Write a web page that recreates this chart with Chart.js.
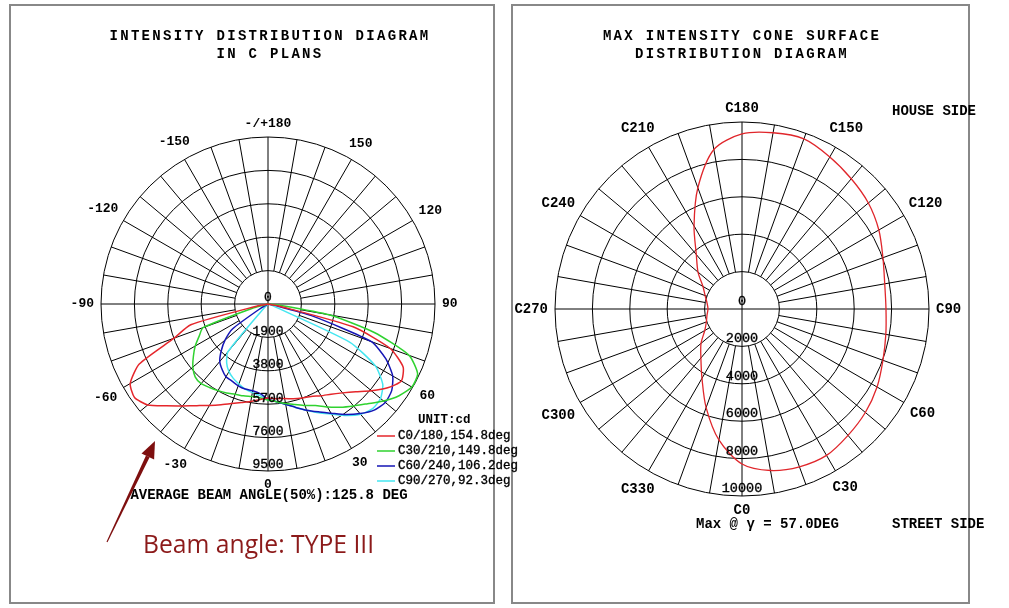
<!DOCTYPE html>
<html>
<head>
<meta charset="utf-8">
<script src="https://cdn.jsdelivr.net/npm/chart.js@4.4.1/dist/chart.umd.min.js"></script>
<style>
  html, body { margin: 0; padding: 0; background: #fff; }
  #page { position: relative; width: 1009px; height: 608px; overflow: hidden; }
  .panel { position: absolute; border: 2px solid #888; box-sizing: border-box; }
  canvas { position: absolute; top: 0; }
  .t { position: absolute; white-space: nowrap; font-family: "Liberation Mono", "DejaVu Sans Mono", monospace;
       font-weight: bold; color: #000; line-height: 1; transform: translate(-50%, -50%); }
  .l { transform: translate(0, -50%); }
  .title { font-size: 14px; letter-spacing: 2.3px; }
  .small { font-size: 14px; }
  .leg { font-size: 12.5px; font-weight: normal; -webkit-text-stroke: 0.35px #000; }
  .note { position: absolute; white-space: nowrap; font-family: "Open Sans", "Noto Sans", sans-serif;
          font-size: 24.7px; line-height: 1; color: #8c1a1a; }
</style>
</head>
<body>
<div id="page">
  <div class="panel" style="left:9px;top:4px;width:486px;height:600px"></div>
  <div class="panel" style="left:511px;top:4px;width:459px;height:600px"></div>

  <canvas id="cplanes" width="505" height="608" style="left:0"></canvas>
  <canvas id="cone" width="504" height="608" style="left:505px"></canvas>

  <div class="t title" style="left:270px;top:36px">INTENSITY DISTRIBUTION DIAGRAM</div>
  <div class="t title" style="left:270px;top:54px">IN C PLANS</div>
  <div class="t title" style="left:742px;top:36px">MAX INTENSITY CONE SURFACE</div>
  <div class="t title" style="left:742px;top:54px">DISTRIBUTION DIAGRAM</div>

  <div class="t l" style="left:418px;top:420px;font-size:12.5px">UNIT:cd</div>
  <div class="t l leg" style="left:398px;top:436px">C0/180,154.8deg</div>
  <div class="t l leg" style="left:398px;top:451px">C30/210,149.8deg</div>
  <div class="t l leg" style="left:398px;top:466px">C60/240,106.2deg</div>
  <div class="t l leg" style="left:398px;top:481px">C90/270,92.3deg</div>

  <div class="t small" style="left:269px;top:495px">AVERAGE BEAM ANGLE(50%):125.8 DEG</div>

  <div class="t l small" style="left:892px;top:111px">HOUSE SIDE</div>
  <div class="t l small" style="left:892px;top:524px">STREET SIDE</div>
  <div class="t l small" style="left:696px;top:524px">Max @ γ = 57.0DEG</div>

  <div class="note" style="left:143px;top:532px">Beam angle: TYPE III</div>

  <svg width="1009" height="608" style="position:absolute;left:0;top:0">
    <line x1="377" y1="436" x2="395" y2="436" stroke="#e5262b" stroke-width="1.5"/>
    <line x1="377" y1="451" x2="395" y2="451" stroke="#2fd22f" stroke-width="1.5"/>
    <line x1="377" y1="466" x2="395" y2="466" stroke="#1515b5" stroke-width="1.5"/>
    <line x1="377" y1="481" x2="395" y2="481" stroke="#45e6f0" stroke-width="1.5"/>
    <polygon points="146,455.6 149.6,457.2 107.5,542.2 106.5,541.8" fill="#7e0f0f"/>
    <polygon points="155,441 154.1,459.4 141.5,453.4" fill="#7e0f0f"/>
  </svg>
</div>

<script>
// ---- left diagram: intensity (cd) per gamma angle, one pair of C planes per series
const gammaAngles = [-90, -85, -80, -75, -70, -65, -60, -55, -50, -45, -40, -35, -30, -25, -20, -15, -10, -5,
  0, 5, 10, 15, 20, 25, 30, 35, 40, 45, 50, 55, 60, 65, 70, 75, 80, 85, 90];
const c0c180 = [0, 0, 570, 4550, 5690, 8080, 9050, 9270, 8930, 8190, 7570, 7060, 6660, 6320, 6030, 5800, 5630, 5460,
  5350, 5410, 5460, 5580, 5690, 5800, 6030, 6260, 6600, 7060, 7680, 8310, 8760, 8480, 7400, 5010, 570, 0, 0];
const c30c210 = [0, 0, 0, 850, 3930, 4320, 4780, 5180, 5580, 5860, 5920, 5800, 5690, 5580, 5460, 5410, 5350, 5350,
  5460, 5580, 5750, 5920, 6150, 6370, 6770, 7170, 7570, 8020, 8590, 9100, 9450, 9390, 8540, 6260, 3530, 570, 0];
const c60c240 = [0, 0, 0, 0, 0, 0, 460, 2450, 3190, 3760, 4270, 4550, 4780, 4840, 4950, 5010, 5010, 5120,
  5410, 5580, 5800, 6090, 6430, 6770, 7170, 7680, 8140, 8540, 8710, 8590, 8190, 7400, 6260, 2560, 280, 0, 0];
const c90c270 = [0, 0, 0, 0, 0, 0, 0, 0, 0, 280, 3530, 4100, 4440, 4670, 4840, 5010, 5120, 5230,
  5460, 5580, 5800, 6090, 6430, 6830, 7230, 7740, 8190, 8420, 8360, 7970, 7060, 5120, 280, 0, 0, 0, 0];
const leftTicks = [0, 1900, 3800, 5700, 7600, 9500];
// clockwise from the bottom (gamma 0)
const leftAngleLabels = ['0', '-30', '-60', '-90', '-120', '-150', '-/+180', '150', '120', '90', '60', '30'];

// ---- right diagram: max intensity on the cone, per C angle
const cAngles = [0, 10, 20, 30, 40, 50, 60, 70, 80, 90, 100, 110, 120, 130, 140, 150, 160, 170,
  180, 190, 200, 210, 220, 230, 240, 250, 260, 270, 280, 290, 300, 310, 320, 330, 340, 350];
const maxCone = [8290, 8770, 8980, 9040, 8820, 8610, 8340, 8020, 7810, 7700, 7750, 8020, 8450, 8820, 9090, 9390, 9680, 9570,
  9360, 8660, 6900, 5130, 3800, 3070, 2410, 2100, 1900, 1820, 1900, 2030, 2300, 2860, 3420, 4280, 5610, 7110];
const rightTicks = [0, 2000, 4000, 6000, 8000, 10000];
const rightAngleLabels = ['C0', 'C330', 'C300', 'C270', 'C240', 'C210', 'C180', 'C150', 'C120', 'C90', 'C60', 'C30'];

// radar index i runs clockwise from the bottom, 5 deg per step on the left chart
function gammaAt(i) { return i <= 36 ? -5 * i : 360 - 5 * i; }
function planeData(series) {
  const out = [];
  for (let i = 0; i < 72; i++) {
    const g = gammaAt(i);
    out.push(Math.abs(g) <= 90 ? series[gammaAngles.indexOf(g)] : 0);
  }
  return out;
}
const leftLabels = Array.from({length: 72}, (_, i) => String(gammaAt(i)));

function cAt(i) { return (360 - 10 * i) % 360; }
const rightLabels = Array.from({length: 36}, (_, i) => 'C' + cAt(i));
const coneData = rightLabels.map((_, i) => maxCone[cAngles.indexOf(cAt(i))]);

// spokes from the first ring outwards (axes through the centre), plus all the labels
const polarDecor = {
  id: 'polarDecor',
  beforeDatasetsDraw(chart, args, o) {
    const s = chart.scales.r, ctx = chart.ctx;
    const n = chart.data.labels.length;
    const inner = s.getDistanceFromCenterForValue(o.ticks[1]);
    const outer = s.getDistanceFromCenterForValue(s.max);
    ctx.save();
    ctx.strokeStyle = '#000';
    ctx.lineWidth = 1;
    for (let i = 0; i < n; i += o.spokeStep) {
      const a = s.getPointPosition(i, i % o.axisStep === 0 ? 0 : inner);
      const b = s.getPointPosition(i, outer);
      ctx.beginPath();
      ctx.moveTo(a.x, a.y);
      ctx.lineTo(b.x, b.y);
      ctx.stroke();
    }
    ctx.restore();
  },
  afterDatasetsDraw(chart, args, o) {
    const s = chart.scales.r, ctx = chart.ctx;
    const outer = s.getDistanceFromCenterForValue(s.max);
    ctx.save();
    ctx.fillStyle = '#000';
    ctx.strokeStyle = '#000';
    ctx.lineWidth = 0.35;
    ctx.textAlign = 'center';
    ctx.textBaseline = 'middle';
    ctx.font = o.tickFont;
    o.ticks.forEach(v => {
      const p = s.getPointPosition(0, s.getDistanceFromCenterForValue(v));
      ctx.fillText(String(v), p.x, p.y - o.tickLift);
      ctx.strokeText(String(v), p.x, p.y - o.tickLift);
    });
    ctx.font = o.labelFont;
    o.labels.forEach((txt, k) => {
      const i = k * o.labelStep;
      const p = s.getPointPosition(i, outer);
      const ux = (p.x - s.xCenter) / outer, uy = (p.y - s.yCenter) / outer;
      const w = ctx.measureText(txt).width;
      const d = outer + o.labelPad + Math.abs(ux) * w / 2 + Math.abs(uy) * o.labelSize / 2;
      const q = s.getPointPosition(i, d);
      ctx.fillText(txt, q.x, q.y);
    });
    ctx.restore();
  }
};

function radarScale(max, step) {
  return {
    r: {
      min: 0, max: max, startAngle: 180,
      ticks: { display: false, stepSize: step },
      grid: { circular: true, color: '#000', lineWidth: 1 },
      angleLines: { display: false },
      pointLabels: { display: false }
    }
  };
}

new Chart(document.getElementById('cplanes'), {
  type: 'radar',
  data: {
    labels: leftLabels,
    datasets: [
      { label: 'C0/180', data: planeData(c0c180), borderColor: '#e5262b' },
      { label: 'C30/210', data: planeData(c30c210), borderColor: '#2fd22f' },
      { label: 'C60/240', data: planeData(c60c240), borderColor: '#1515b5' },
      { label: 'C90/270', data: planeData(c90c270), borderColor: '#45e6f0' }
    ]
  },
  options: {
    responsive: false,
    animation: false,
    layout: { padding: { left: 101, top: 137, right: 70, bottom: 137 } },
    elements: { point: { radius: 0 }, line: { borderWidth: 1.5, tension: 0.2, fill: false } },
    scales: radarScale(9500, 1900),
    plugins: {
      legend: { display: false },
      tooltip: { enabled: false },
      polarDecor: {
        ticks: leftTicks, labels: leftAngleLabels, labelStep: 6, spokeStep: 2, axisStep: 18,
        tickFont: '13px "Liberation Mono"', labelFont: 'bold 13px "Liberation Mono"',
        tickLift: 6, labelPad: 7, labelSize: 13
      }
    }
  },
  plugins: [polarDecor]
});

new Chart(document.getElementById('cone'), {
  type: 'radar',
  data: {
    labels: rightLabels,
    datasets: [
      { label: 'Max intensity', data: coneData, borderColor: '#e0262b', borderWidth: 1.3, tension: 0.3 }
    ]
  },
  options: {
    responsive: false,
    animation: false,
    layout: { padding: { left: 50, top: 122, right: 80, bottom: 112 } },
    elements: { point: { radius: 0 }, line: { fill: false } },
    scales: radarScale(10000, 2000),
    plugins: {
      legend: { display: false },
      tooltip: { enabled: false },
      polarDecor: {
        ticks: rightTicks, labels: rightAngleLabels, labelStep: 3, spokeStep: 1, axisStep: 9,
        tickFont: '13.5px "Liberation Mono"', labelFont: 'bold 14px "Liberation Mono"',
        tickLift: 7.5, labelPad: 7, labelSize: 14
      }
    }
  },
  plugins: [polarDecor]
});
</script>
</body>
</html>
